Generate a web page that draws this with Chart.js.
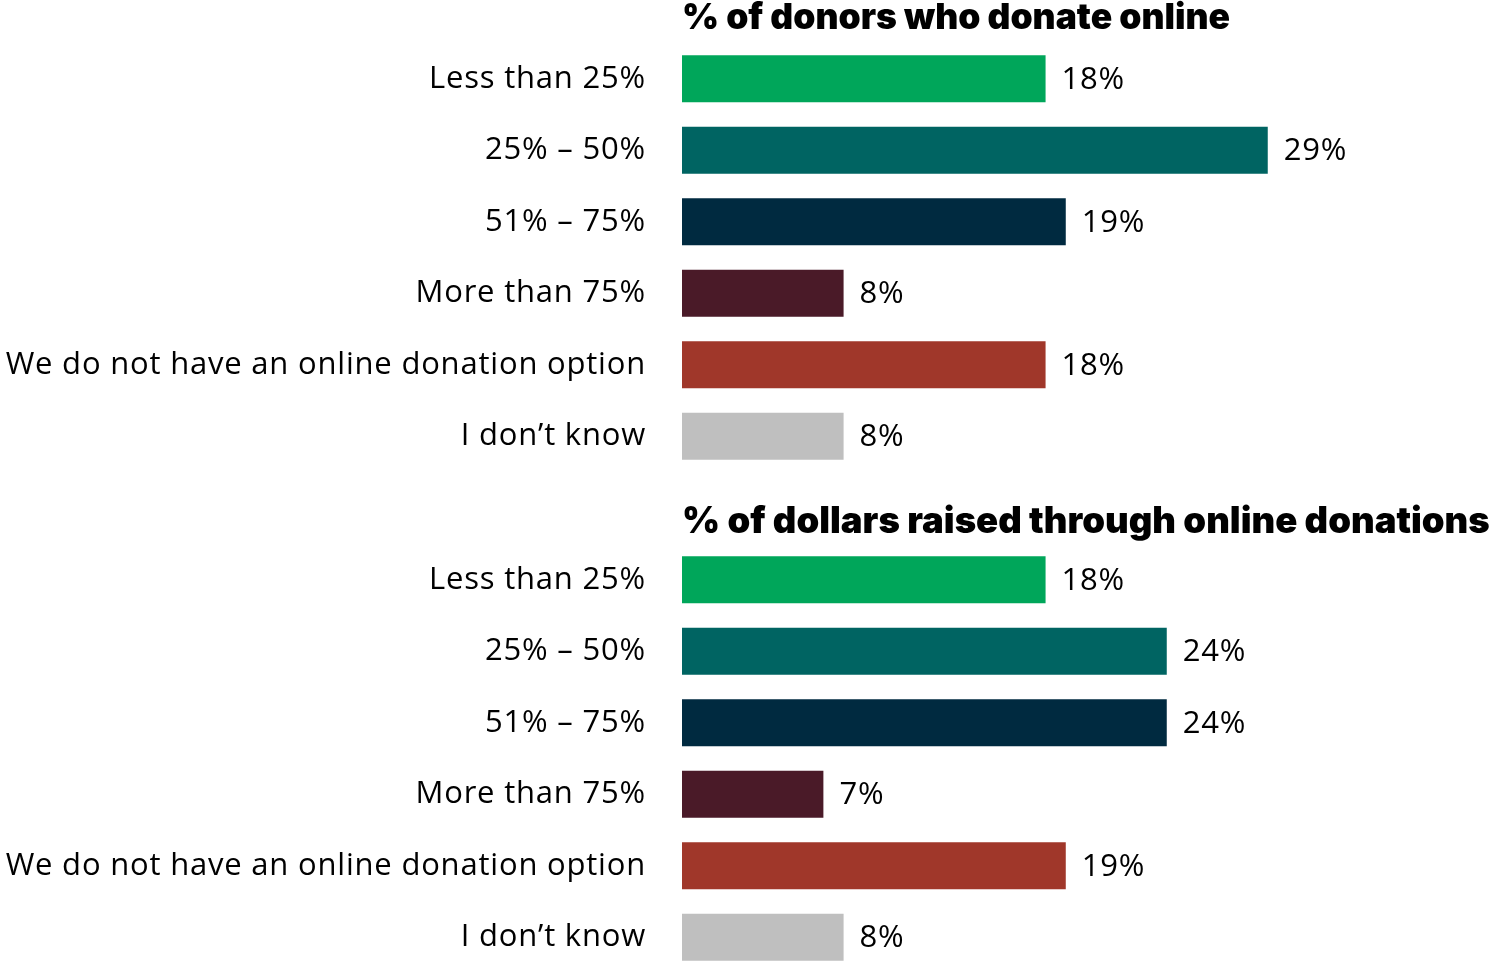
<!DOCTYPE html>
<html>
<head>
<meta charset="utf-8">
<script src="https://cdn.jsdelivr.net/npm/chart.js@4"></script>
<style>
  html, body { margin: 0; padding: 0; background: #fff; overflow: hidden; }
  body { width: 1496px; height: 961px; position: relative; }
  canvas { position: absolute; left: 0; }
  #donorsChart { top: 0; }
  #dollarsChart { top: 501px; }
</style>
</head>
<body>
<canvas id="donorsChart" width="1496" height="475"></canvas>
<canvas id="dollarsChart" width="1496" height="475"></canvas>
<script>
// Shared categories and colours
var categories = [
  "Less than 25%",
  "25% \u2013 50%",
  "51% \u2013 75%",
  "More than 75%",
  "We do not have an online donation option",
  "I don\u2019t know"
];
var barColors = ["#00A65A", "#006462", "#002A40", "#4A1A28", "#A0372A", "#BFBFBF"];

// Percent of donors who donate online
var donorValues = [18, 29, 19, 8, 18, 8];
// Percent of dollars raised through online donations
var dollarValues = [18, 24, 24, 7, 19, 8];

var labelFont = "'Open Sans', Lato, sans-serif";

// Slightly looser text spacing for all canvas text
var spacing = {
  id: "spacing",
  beforeDraw: function(chart) {
    chart.ctx.letterSpacing = "0.8px";
  }
};

// Draws the panel heading above the bars and the value after each bar
var annotate = {
  id: "annotate",
  afterDatasetsDraw: function(chart, args, opts) {
    var ctx = chart.ctx;
    ctx.save();
    ctx.fillStyle = "#000";
    ctx.letterSpacing = "0px";
    ctx.font = "900 " + opts.headingSize + "px Inter, Roboto, sans-serif";
    ctx.textAlign = "left";
    ctx.textBaseline = "middle";
    ctx.fillText(opts.heading, chart.chartArea.left, opts.headingY);

    ctx.letterSpacing = "0.8px";
    ctx.font = "31px " + labelFont;
    var meta = chart.getDatasetMeta(0);
    meta.data.forEach(function(bar, i) {
      var v = chart.data.datasets[0].data[i];
      ctx.fillText(v + "%", bar.x + 16, bar.y + 1);
    });
    ctx.restore();
  }
};

function makeChart(canvasId, values, heading, headingY, headingSize) {
  var ctx = document.getElementById(canvasId).getContext("2d");
  return new Chart(ctx, {
    type: "bar",
    data: {
      labels: categories,
      datasets: [{
        data: values,
        backgroundColor: barColors,
        borderWidth: 0,
        barPercentage: 0.66,
        categoryPercentage: 1.0
      }]
    },
    options: {
      indexAxis: "y",
      responsive: false,
      animation: false,
      layout: { padding: { top: 43, bottom: 3, left: 0, right: 0 } },
      plugins: {
        legend: { display: false },
        tooltip: { enabled: false },
        annotate: { heading: heading, headingY: headingY, headingSize: headingSize }
      },
      scales: {
        x: {
          display: false,
          min: 0,
          max: 40.3
        },
        y: {
          grid: { display: false },
          border: { display: false },
          ticks: {
            color: "#000",
            padding: 28,
            font: { family: labelFont, size: 31 }
          },
          afterFit: function(scale) {
            // fixed label column; keep tick padding from eating vertical space
            scale.width = 682;
            scale.paddingTop = 0;
            scale.paddingBottom = 0;
          }
        }
      }
    },
    plugins: [spacing, annotate]
  });
}

makeChart("donorsChart", donorValues, "% of donors who donate online", 18, 35.5);
makeChart("dollarsChart", dollarValues, "% of dollars raised through online donations", 21, 36.5);
</script>
</body>
</html>
